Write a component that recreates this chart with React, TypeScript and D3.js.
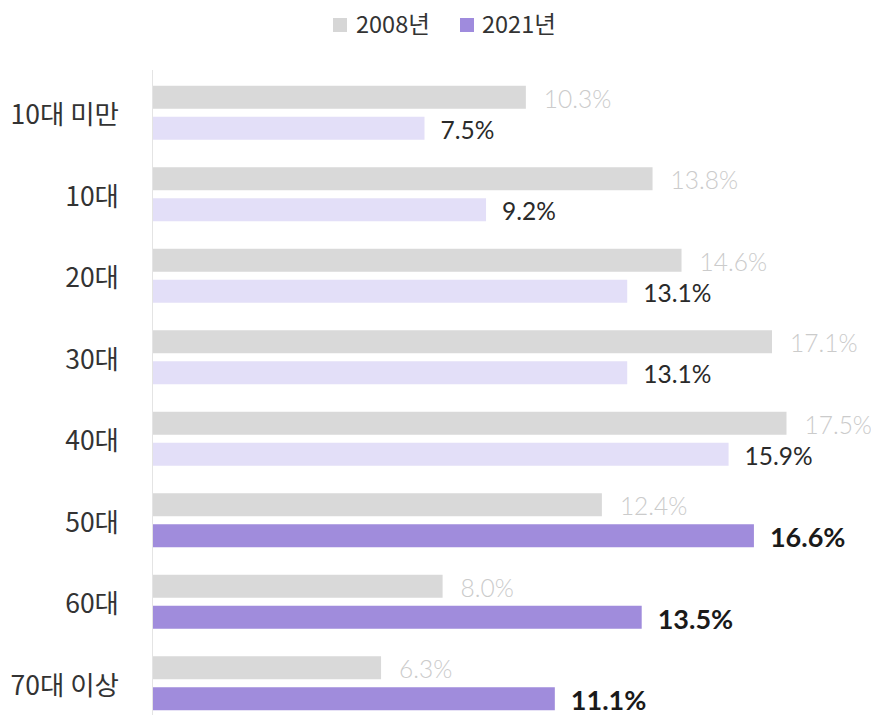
import React from "react";
import * as d3 from "d3";

const categories = ["10대 미만", "10대", "20대", "30대", "40대", "50대", "60대", "70대 이상"];
const values2008 = [10.3, 13.8, 14.6, 17.1, 17.5, 12.4, 8.0, 6.3];
const values2021 = [7.5, 9.2, 13.1, 13.1, 15.9, 16.6, 13.5, 11.1];
const highlighted = [false, false, false, false, false, true, true, true];
const seriesNames = ["2008년", "2021년"];

const W = 871;
const H = 715;

export default function App() {
  const x = d3.scaleLinear().domain([0, 20]).range([153, 153 + 36.2 * 20]);
  const y = d3.scaleBand<string>().domain(categories).range([72, 724]).paddingInner(0).paddingOuter(0);
  const bh = 23;
  const gap = 8;
  const font = "Lato, 'Noto Sans CJK KR', sans-serif";
  const cjk = "'Noto Sans CJK KR', 'Noto Sans', sans-serif";

  return (
    <svg width={W} height={H} style={{ position: "absolute", left: 0, top: 0, background: "#fff" }}>
      {/* legend */}
      <rect x={333} y={18} width={14} height={14} fill="#d6d6d6" />
      <text x={356} y={33} fontSize={23.5} fill="#333" fontFamily={cjk}>{seriesNames[0]}</text>
      <rect x={460} y={18} width={14} height={14} fill="#9f8bdd" />
      <text x={482} y={33} fontSize={23.5} fill="#333" fontFamily={cjk}>{seriesNames[1]}</text>

      {/* axis line */}
      <line x1={152.5} x2={152.5} y1={70} y2={715} stroke="#e4e4e4" strokeWidth={1} />

      {categories.map((c, i) => {
        const center = (y(c) as number) + y.bandwidth() / 2;
        const g0 = center - gap / 2 - bh;
        const p0 = center + gap / 2;
        const hl = highlighted[i];
        return (
          <g key={c}>
            <text x={119} y={center} textAnchor="end" dominantBaseline="central" fontSize={26.5} fill="#333" fontFamily={cjk}>{c}</text>
            <rect x={x(0)} y={g0} width={x(values2008[i]) - x(0)} height={bh} fill="#d9d9d9" />
            <rect x={x(0)} y={p0} width={x(values2021[i]) - x(0)} height={bh} fill={hl ? "#a08cdc" : "#e3dff8"} />
            <text x={x(values2008[i]) + 18} y={g0 + bh / 2 + 1} dominantBaseline="central" fontSize={24.5} fontWeight={300} fill="#cbcbcb" fontFamily={font}>{values2008[i].toFixed(1)}%</text>
            <text x={x(values2021[i]) + 16} y={p0 + bh / 2 + 1} dominantBaseline="central" fontSize={hl ? 27 : 24.5} fontWeight={hl ? 700 : 400} fill={hl ? "#1a1a1a" : "#2a2a2a"} fontFamily={font}>{values2021[i].toFixed(1)}%</text>
          </g>
        );
      })}
    </svg>
  );
}
